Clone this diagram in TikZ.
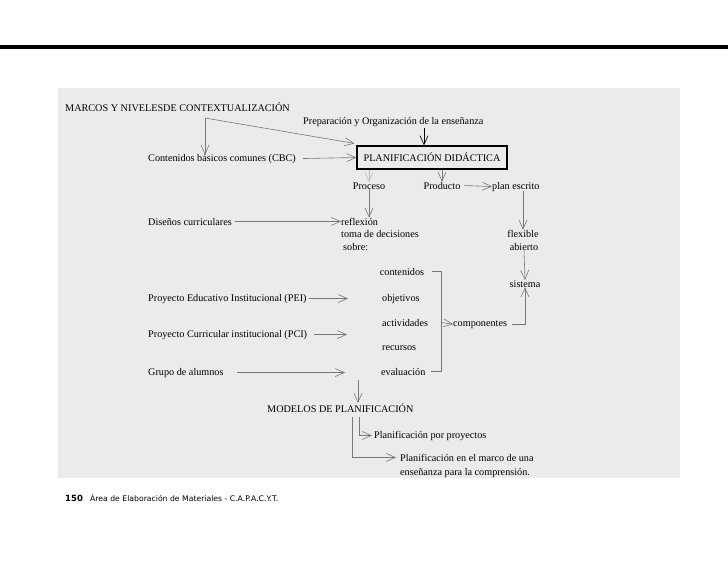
\documentclass[tikz,border=0pt]{standalone}
\usepackage{fontspec}
\setmainfont{Liberation Serif}
\newfontfamily\footfont{DejaVu Sans}
\usetikzlibrary{arrows.meta,calc}
\definecolor{panelgray}{RGB}{235,235,235}
\definecolor{linegray}{RGB}{120,120,120}
\begin{document}
\begin{tikzpicture}[x=1pt,y=-1pt,
    txt/.style={inner sep=0pt,anchor=base west,font=\fontsize{10.2}{12}\selectfont},
    ctxt/.style={txt,anchor=base},
    arr/.style={draw=linegray,line width=0.6pt,-{Straight Barb[length=9pt,width=8pt]}},
    ]
    \useasboundingbox (0,0) rectangle (728,565);
    \fill[black] (0,45) rectangle (728,49);
    \fill[panelgray] (58,88) rectangle (680,478);
    % textos
    \node[txt] (marcos) at (65,111) {MARCOS Y NIVELESDE CONTEXTUALIZACIÓN};
    \node[txt] (prep) at (303,124) {Preparación y Organización de la enseñanza};
    \node[txt] (cbc) at (148,161) {Contenidos básicos comunes (CBC)};
    \node[draw,line width=1.1pt,minimum width=150,minimum height=23,inner sep=0pt,
        font=\fontsize{10.2}{12}\selectfont] (plan) at (432,157.5) {PLANIFICACIÓN DIDÁCTICA};
    \node[ctxt] (proceso) at (369,189) {Proceso};
    \node[ctxt] (producto) at (442,189) {Producto};
    \node[txt] (escrito) at (492,189) {plan escrito};
    \node[txt] (disenos) at (148,225) {Diseños curriculares};
    \node[txt] (reflexion) at (341,225) {reflexión};
    \node[txt] (toma) at (341,237) {toma de decisiones};
    \node[txt] (sobre) at (343,250) {sobre:};
    \node[ctxt] (flexible) at (523,237) {flexible};
    \node[ctxt] (abierto) at (524,250) {abierto};
    \node[ctxt] (sistema) at (525,287) {sistema};
    \node[ctxt] (contenidos) at (402,275) {contenidos};
    \node[txt] (objetivos) at (382,301) {objetivos};
    \node[txt] (actividades) at (382,326) {actividades};
    \node[txt] (recursos) at (382,350) {recursos};
    \node[txt] (evaluacion) at (381,375) {evaluación};
    \node[txt] (componentes) at (453,326) {componentes};
    \node[txt] (pei) at (148,301) {Proyecto Educativo Institucional (PEI)};
    \node[txt] (pci) at (148,337) {Proyecto Curricular institucional (PCI)};
    \node[txt] (grupo) at (148,375) {Grupo de alumnos};
    \node[txt] (modelos) at (267,412) {MODELOS DE PLANIFICACIÓN};
    \node[txt] (proyectos) at (374,438) {Planificación por proyectos};
    \node[txt] (marco) at (400,461) {Planificación en el marco de una};
    \node[txt] (comprension) at (400,475) {enseñanza para la comprensión.};
    % pie de pagina
    \node[inner sep=0pt,anchor=base west,font=\footfont\bfseries\fontsize{8.5}{10}\selectfont] (pagina) at (65,501) {150};
    \node[inner sep=0pt,anchor=base west,font=\footfont\fontsize{7.7}{9}\selectfont] (pie) at (90,501) {Área de Elaboración de Materiales - C.A.P.A.C.Y.T.};
    % flechas
    \coordinate (m0) at (205,118);
    \draw[arr] (m0) -- ([yshift=-1pt]m0 |- cbc.north);
    \draw[arr] (m0) -- ([xshift=-2pt,yshift=2pt]plan.north west);
    \coordinate (p0) at (424,128);
    \draw[arr,draw=black] (p0) -- (p0 |- plan.north);
    \draw[arr] ([xshift=7pt]cbc.east) -- (plan.west);
    \draw[arr,draw=linegray!50] (plan.south -| proceso) -- (proceso.north);
    \draw[arr] (plan.south -| producto) -- (producto.north);
    \draw[arr] ([xshift=4pt]producto.east) -- (escrito.west);
    \draw[arr] (proceso.south) -- (proceso.south |- reflexion.north);
    \draw[arr] ([xshift=3pt]disenos.east) -- (reflexion.west);
    \draw[arr] (escrito.south -| flexible) -- (flexible.north);
    \draw[arr] (abierto.south) -- (sistema.north);
    \draw[arr,shorten >=34pt] ([xshift=2pt]pei.east) -- (pei.east -| objetivos.west);
    \draw[arr,shorten >=35pt] ([xshift=7pt]pci.east) -- (pci.east -| recursos.west);
    \draw[arr,shorten >=36pt] ([xshift=13pt]grupo.east) -- (grupo.east -| evaluacion.west);
    % llave de componentes
    \coordinate (br) at (441,0);
    \draw[linegray,line width=0.6pt] ([xshift=8pt]contenidos.east) -- (contenidos.east -| br)
        -- (evaluacion.east -| br) -- ([xshift=5pt]evaluacion.east);
    \draw[arr] (actividades.east -| br) -- (componentes.west);
    \draw[arr] ([xshift=5pt]componentes.east) -| (sistema.south);
    \coordinate (g0) at (358,380);
    \draw[arr] (g0) -- (g0 |- modelos.north);
    \draw[arr] ([xshift=92pt,yshift=-5pt]modelos.south west) |- ([xshift=-2pt]proyectos.west);
    \draw[arr] ([xshift=85pt,yshift=-5pt]modelos.south west) |- ([xshift=-4pt]marco.west);
\end{tikzpicture}
\end{document}
